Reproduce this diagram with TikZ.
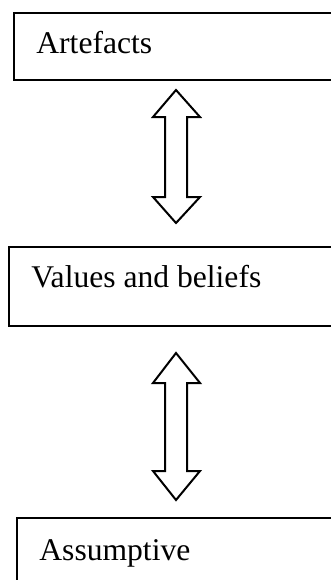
\documentclass[tikz,border=0pt]{standalone}
\usepackage{fontspec}
\setmainfont{Liberation Serif}
\begin{document}
\begin{tikzpicture}[x=0.5pt,y=-0.5pt,
  boxline/.style={line width=1pt,line join=miter},
  label/.style={anchor=base west,inner sep=0pt,font=\fontsize{15.8pt}{18pt}\selectfont},
  dblarrow/.style={line width=1pt,line join=miter,fill=white}]
\useasboundingbox (0,0) rectangle (331,580);
\clip (0,0) rectangle (331,580);
% boxes
\draw[boxline] (340,12.5) -- (14,12.5) -- (14,80) -- (340,80);
\draw[boxline] (340,246.5) -- (9,246.5) -- (9,326) -- (340,326);
\draw[boxline] (340,518) -- (17,518) -- (17,590);
% texts
\node[label] (t1) at (36,53) {Artefacts};
\node[label] (t2) at (31,287) {Values and beliefs};
\node[label] (t3) at (39,560) {Assumptive};
% double arrows
\coordinate (c1) at (176,0);
\draw[dblarrow] (176,90) -- (200,117) -- (187,117) -- (187,197) -- (200,197) -- (176,223)
  -- (153,197) -- (165,197) -- (165,117) -- (153,117) -- cycle;
\draw[dblarrow] (176,353) -- (200,383) -- (187,383) -- (187,471) -- (200,471) -- (176,500)
  -- (153,471) -- (165,471) -- (165,383) -- (153,383) -- cycle;
\end{tikzpicture}
\end{document}
